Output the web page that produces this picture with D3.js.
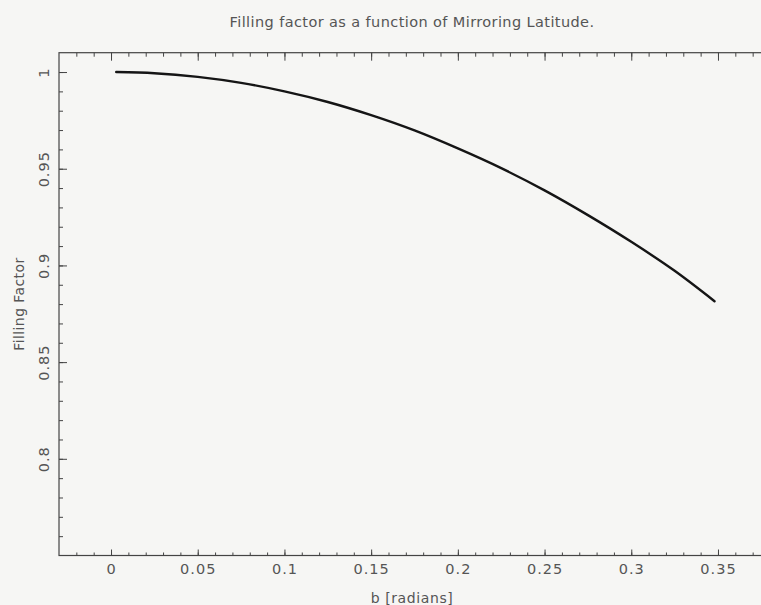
<!DOCTYPE html>
<html>
<head>
<meta charset="utf-8">
<script src="https://cdn.jsdelivr.net/npm/d3@7"></script>
<style>
  html, body { margin: 0; padding: 0; background: #f6f6f4; }
  svg { display: block; }
  text { font-family: "DejaVu Sans", sans-serif; fill: #555; }
</style>
</head>
<body>
<svg id="chart" width="761" height="605"></svg>
<script>
// Mirroring latitude b (radians) and the corresponding filling factor
const bValues = [0.003, 0.025, 0.05, 0.075, 0.1, 0.125, 0.15, 0.175, 0.2, 0.225, 0.25, 0.275, 0.3, 0.325, 0.348];
const fillValues = [1.000, 0.9994, 0.9975, 0.9944, 0.9900, 0.9845, 0.9777, 0.9698, 0.9605, 0.9503, 0.9388, 0.9260, 0.9122, 0.8972, 0.8815];

const xTickLabels = [0, 0.05, 0.1, 0.15, 0.2, 0.25, 0.3, 0.35];
const yTickLabels = [0.8, 0.85, 0.9, 0.95, 1];

const titleText = "Filling factor as a function of Mirroring Latitude.";
const xTitle = "b [radians]";
const yTitle = "Filling Factor";

const svg = d3.select("#chart");

const x = d3.scaleLinear().domain([-0.03, 0.38]).range([59, 770]);
const y = d3.scaleLinear().domain([0.75, 1.01]).range([555.5, 52.7]);

const x0 = x.range()[0], x1 = x.range()[1];
const y0 = y.range()[0], y1 = y.range()[1];

// minor tick positions every 0.01
const xMinor = d3.range(-2, 38).map(i => +(i * 0.01).toFixed(2));
const yMinor = d3.range(76, 101).map(i => +(i * 0.01).toFixed(2));

function styleAxis(g) {
  g.select(".domain").remove();
  g.selectAll("line").attr("stroke", "#444").attr("stroke-width", 1);
}

// frame
svg.append("rect")
  .attr("x", x0).attr("y", y1)
  .attr("width", x1 - x0).attr("height", y0 - y1)
  .attr("fill", "none").attr("stroke", "#444").attr("stroke-width", 1.2);

// bottom axis: minor ticks then labelled major ticks, both pointing inward
svg.append("g").attr("transform", `translate(0,${y0})`)
  .call(d3.axisBottom(x).tickValues(xMinor).tickSize(-3).tickFormat(""))
  .call(styleAxis);
svg.append("g").attr("transform", `translate(0,${y0})`)
  .call(d3.axisBottom(x).tickValues(xTickLabels).tickSize(-6).tickPadding(8).tickFormat(d3.format("")))
  .call(styleAxis)
  .call(g => g.selectAll("text")
    .style("font-size", "14.5px").style("letter-spacing", "1px").attr("fill", "#555"));

// top axis ticks
svg.append("g").attr("transform", `translate(0,${y1})`)
  .call(d3.axisTop(x).tickValues(xMinor).tickSize(-4).tickFormat(""))
  .call(styleAxis);
svg.append("g").attr("transform", `translate(0,${y1})`)
  .call(d3.axisTop(x).tickValues(xTickLabels).tickSize(-8).tickFormat(""))
  .call(styleAxis);

// left axis with rotated labels
svg.append("g").attr("transform", `translate(${x0},0)`)
  .call(d3.axisLeft(y).tickValues(yMinor).tickSize(-4).tickFormat(""))
  .call(styleAxis);
svg.append("g").attr("transform", `translate(${x0},0)`)
  .call(d3.axisLeft(y).tickValues(yTickLabels).tickSize(-8).tickFormat(d3.format("")))
  .call(styleAxis)
  .call(g => g.selectAll("text")
    .attr("x", null).attr("dy", "0.36em")
    .attr("text-anchor", "middle")
    .attr("transform", "translate(-15,0) rotate(-90)")
    .style("font-size", "14.5px").style("letter-spacing", "1px").attr("fill", "#555"));

// curve
const line = d3.line()
  .x((d, i) => x(bValues[i]))
  .y(d => y(d))
  .curve(d3.curveMonotoneX);

svg.append("path")
  .datum(fillValues)
  .attr("d", line)
  .attr("fill", "none")
  .attr("stroke", "#151515")
  .attr("stroke-width", 2.4)
  .attr("stroke-linecap", "round");

// titles
svg.append("text")
  .attr("x", 412).attr("y", 27)
  .attr("text-anchor", "middle")
  .style("font-size", "14.5px")
  .style("letter-spacing", "0.4px")
  .text(titleText);

svg.append("text")
  .attr("x", 412).attr("y", 603)
  .attr("text-anchor", "middle")
  .style("font-size", "14px")
  .style("letter-spacing", "0.6px")
  .text(xTitle);

svg.append("text")
  .attr("transform", `translate(24,${(y0 + y1) / 2}) rotate(-90)`)
  .attr("text-anchor", "middle")
  .style("font-size", "14px")
  .style("letter-spacing", "0.4px")
  .text(yTitle);
</script>
</body>
</html>
